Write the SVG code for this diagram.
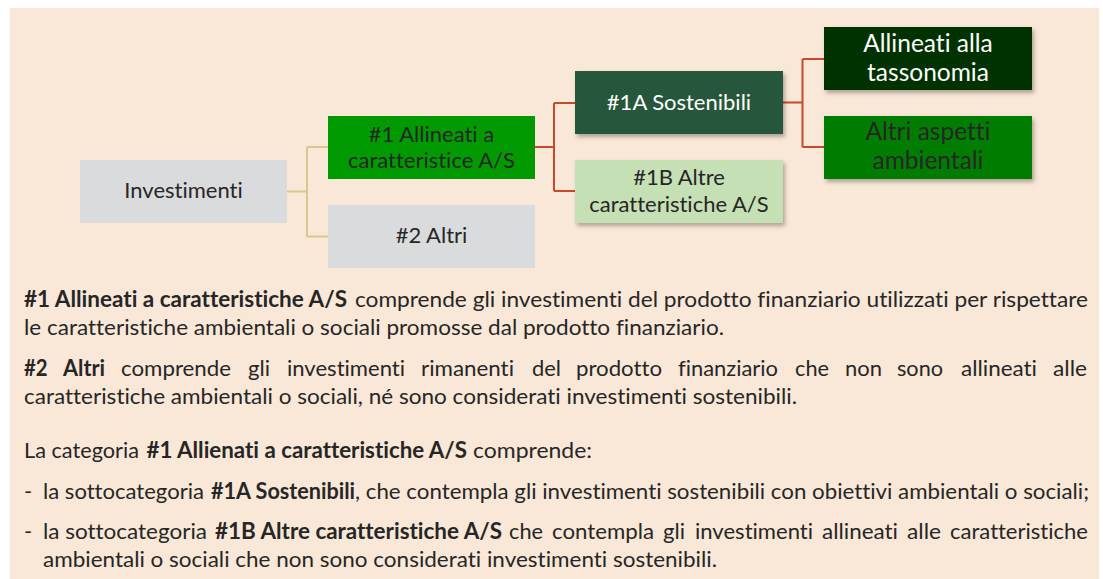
<svg xmlns="http://www.w3.org/2000/svg" width="1103" height="579" viewBox="0 0 1103 579">
<style>
text{font-variant-ligatures:none;font-kerning:normal}
.box{font-family:Lato,"Liberation Sans",sans-serif;font-size:22px;fill:#262626;text-anchor:middle}
.big{font-size:24.5px}
.w{fill:#ffffff}
.body{font-family:Lato,"Liberation Sans",sans-serif;font-size:22px;fill:#262626}
.b{font-weight:bold}
.tan{fill:none;stroke:#D5C98C;stroke-width:2}
.red{fill:none;stroke:#C8482B;stroke-width:2}
</style>
<defs>
<filter id="sh" x="-10%" y="-10%" width="125%" height="140%">
<feDropShadow dx="2" dy="3" stdDeviation="2" flood-color="#000" flood-opacity="0.3"/>
</filter>
</defs>
<rect x="0" y="0" width="1103" height="579" fill="#ffffff"/>
<rect x="10" y="8" width="1089" height="571" fill="#F9E8D7"/>
<g id="connectors">
<path class="tan" d="M287,191.5 H307 M307,147 V236.5 M307,147 H328 M307,236.5 H328"/>
<path class="red" d="M535,147 H554 M554,103 V191 M554,103 H575 M554,191 H575"/>
<path class="red" d="M783,102.5 H802.5 M802.5,59 V147 M802.5,59 H824 M802.5,147 H824"/>
</g>
<g id="investimenti">
<rect x="80" y="160" width="207" height="63" fill="#DADBDD"/>
<text class="box" x="183.5" y="198">Investimenti</text>
</g>
<g id="n1">
<rect x="328" y="116" width="207" height="63" fill="#009A00"/>
<text class="box" x="431.5" y="142">#1 Allineati a</text>
<text class="box" x="431.5" y="168">caratteristice A/S</text>
</g>
<g id="n2">
<rect x="328" y="205" width="207" height="63" fill="#DADBDD"/>
<text class="box" x="431.5" y="243">#2 Altri</text>
</g>
<g id="n1a">
<rect x="575" y="71" width="208" height="63" fill="#25573A" filter="url(#sh)"/>
<text class="box w" x="679" y="110">#1A Sostenibili</text>
</g>
<g id="n1b">
<rect x="575" y="160" width="208" height="63" fill="#C5E0B4" filter="url(#sh)"/>
<text class="box" x="679" y="185">#1B Altre</text>
<text class="box" x="679" y="212">caratteristiche A/S</text>
</g>
<g id="tassonomia">
<rect x="824" y="27" width="208" height="63" fill="#003300" filter="url(#sh)"/>
<text class="box big w" x="928" y="52">Allineati alla</text>
<text class="box big w" x="928" y="81">tassonomia</text>
</g>
<g id="altri-aspetti">
<rect x="824" y="116" width="208" height="63" fill="#007D00" filter="url(#sh)"/>
<text class="box big" x="928" y="140">Altri aspetti</text>
<text class="box big" x="928" y="169">ambientali</text>
</g>
<g id="testo">
<text class="body b" x="24" y="307" textLength="323" lengthAdjust="spacingAndGlyphs">#1 Allineati a caratteristiche A/S</text>
<text class="body" x="355" y="307" textLength="733" lengthAdjust="spacingAndGlyphs">comprende gli investimenti del prodotto finanziario utilizzati per rispettare</text>
<text class="body" x="24" y="335" textLength="700" lengthAdjust="spacingAndGlyphs">le caratteristiche ambientali o sociali promosse dal prodotto finanziario.</text>
<text class="body b" x="24" y="376" textLength="23.6" lengthAdjust="spacingAndGlyphs">#2</text>
<text class="body b" x="63" y="376" textLength="42" lengthAdjust="spacingAndGlyphs">Altri</text>
<text class="body" x="121" y="376" textLength="110" lengthAdjust="spacingAndGlyphs">comprende</text>
<text class="body" x="248" y="376" textLength="22" lengthAdjust="spacingAndGlyphs">gli</text>
<text class="body" x="287" y="376" textLength="118" lengthAdjust="spacingAndGlyphs">investimenti</text>
<text class="body" x="421" y="376" textLength="93" lengthAdjust="spacingAndGlyphs">rimanenti</text>
<text class="body" x="532" y="376" textLength="29" lengthAdjust="spacingAndGlyphs">del</text>
<text class="body" x="576" y="376" textLength="86" lengthAdjust="spacingAndGlyphs">prodotto</text>
<text class="body" x="678" y="376" textLength="100" lengthAdjust="spacingAndGlyphs">finanziario</text>
<text class="body" x="795" y="376" textLength="34" lengthAdjust="spacingAndGlyphs">che</text>
<text class="body" x="845" y="376" textLength="37" lengthAdjust="spacingAndGlyphs">non</text>
<text class="body" x="897" y="376" textLength="46" lengthAdjust="spacingAndGlyphs">sono</text>
<text class="body" x="961" y="376" textLength="76" lengthAdjust="spacingAndGlyphs">allineati</text>
<text class="body" x="1053" y="376" textLength="34" lengthAdjust="spacingAndGlyphs">alle</text>
<text class="body" x="24" y="404" textLength="773" lengthAdjust="spacingAndGlyphs">caratteristiche ambientali o sociali, né sono considerati investimenti sostenibili.</text>
<text class="body" x="24" y="458" textLength="115" lengthAdjust="spacingAndGlyphs">La categoria</text>
<text class="body b" x="146.5" y="458" textLength="320.5" lengthAdjust="spacingAndGlyphs">#1 Allienati a caratteristiche A/S</text>
<text class="body" x="473" y="458" textLength="119" lengthAdjust="spacingAndGlyphs">comprende:</text>
<text class="body" x="24" y="499">-</text>
<text class="body" x="43" y="499" textLength="161" lengthAdjust="spacingAndGlyphs">la sottocategoria</text>
<text class="body b" x="211" y="499" textLength="144" lengthAdjust="spacingAndGlyphs">#1A Sostenibili</text>
<text class="body" x="355" y="499" textLength="734" lengthAdjust="spacingAndGlyphs">, che contempla gli investimenti sostenibili con obiettivi ambientali o sociali;</text>
<text class="body" x="24" y="539">-</text>
<text class="body" x="43" y="539" textLength="164" lengthAdjust="spacingAndGlyphs">la sottocategoria</text>
<text class="body b" x="215" y="539" textLength="287" lengthAdjust="spacingAndGlyphs">#1B Altre caratteristiche A/S</text>
<text class="body" x="509" y="539" textLength="34" lengthAdjust="spacingAndGlyphs">che</text>
<text class="body" x="552" y="539" textLength="102" lengthAdjust="spacingAndGlyphs">contempla</text>
<text class="body" x="663" y="539" textLength="22" lengthAdjust="spacingAndGlyphs">gli</text>
<text class="body" x="695" y="539" textLength="118" lengthAdjust="spacingAndGlyphs">investimenti</text>
<text class="body" x="822" y="539" textLength="76" lengthAdjust="spacingAndGlyphs">allineati</text>
<text class="body" x="907" y="539" textLength="34" lengthAdjust="spacingAndGlyphs">alle</text>
<text class="body" x="950" y="539" textLength="138" lengthAdjust="spacingAndGlyphs">caratteristiche</text>
<text class="body" x="43" y="567" textLength="674" lengthAdjust="spacingAndGlyphs">ambientali o sociali che non sono considerati investimenti sostenibili.</text>
</g>
</svg>
